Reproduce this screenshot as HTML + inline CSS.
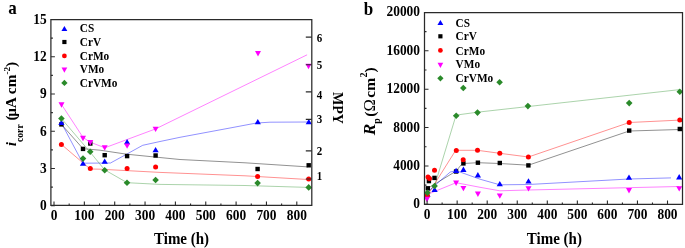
<!DOCTYPE html>
<html><head><meta charset="utf-8"><title>chart</title>
<style>
html,body{margin:0;padding:0;background:#fff;}
body{width:685px;height:248px;overflow:hidden;}
svg{display:block;will-change:transform;filter:blur(0.3px);}
</style></head>
<body>
<svg width="685" height="248" viewBox="0 0 685 248">
<rect width="685" height="248" fill="#fff"/>
<polyline points="61.4,123 82.8,163.2 110.5,163 126.6,154.2 142.7,145.3 160,141.5 180,137.3 230,128 256.5,123 270,122.2 309,122" fill="none" stroke="#0000ff" stroke-width="0.7" stroke-linejoin="round" opacity="0.62"/>
<polyline points="61.4,124.4 83,148.7 100,150.2 126.6,154.2 155.6,157.1 180,159.5 245,162.8 308,166.9" fill="none" stroke="#000000" stroke-width="0.7" stroke-linejoin="round" opacity="0.62"/>
<polyline points="61.4,144.4 90.1,169 100,169.2 160,172.4 245,175.8 308,179.5" fill="none" stroke="#ff0000" stroke-width="0.7" stroke-linejoin="round" opacity="0.62"/>
<polyline points="61.5,104.5 83.1,137.5 90.3,142.2 104.8,147.8 155.6,128.9 307.1,54.8" fill="none" stroke="#ff00ff" stroke-width="0.7" stroke-linejoin="round" opacity="0.7"/>
<polyline points="61.4,118.5 90.1,152.1 104.6,169.8 127.1,182.7 160,184.4 245,185.5 308,187.4" fill="none" stroke="#3c9a3c" stroke-width="0.7" stroke-linejoin="round" opacity="0.62"/>
<rect x="59.2" y="122.2" width="4.4" height="4.4" fill="#000000"/>
<rect x="80.8" y="146.7" width="4.4" height="4.4" fill="#000000"/>
<rect x="88.1" y="141.3" width="4.4" height="4.4" fill="#000000"/>
<rect x="102.5" y="153" width="4.4" height="4.4" fill="#000000"/>
<rect x="124.9" y="153.9" width="4.4" height="4.4" fill="#000000"/>
<rect x="153.4" y="153.3" width="4.4" height="4.4" fill="#000000"/>
<rect x="255.4" y="166.8" width="4.4" height="4.4" fill="#000000"/>
<rect x="306.5" y="163.1" width="4.4" height="4.4" fill="#000000"/>
<circle cx="61.4" cy="144.4" r="2.5" fill="#ff0000"/>
<circle cx="90.3" cy="168.6" r="2.5" fill="#ff0000"/>
<circle cx="127.1" cy="168.6" r="2.5" fill="#ff0000"/>
<circle cx="155.6" cy="167.1" r="2.5" fill="#ff0000"/>
<circle cx="257.6" cy="176.6" r="2.5" fill="#ff0000"/>
<circle cx="308.7" cy="179" r="2.5" fill="#ff0000"/>
<path d="M61.4 119.7L64.5 125L58.3 125Z" fill="#0000ff"/>
<path d="M83 160.4L86.1 165.7L79.9 165.7Z" fill="#0000ff"/>
<path d="M104.7 158.4L107.8 163.7L101.6 163.7Z" fill="#0000ff"/>
<path d="M127.1 139L130.2 144.3L124 144.3Z" fill="#0000ff"/>
<path d="M155.6 146.9L158.7 152.2L152.5 152.2Z" fill="#0000ff"/>
<path d="M257.8 119L260.9 124.3L254.7 124.3Z" fill="#0000ff"/>
<path d="M308.8 119L311.9 124.3L305.7 124.3Z" fill="#0000ff"/>
<path d="M61.5 107.7L64.5 102.3L58.5 102.3Z" fill="#ff00ff"/>
<path d="M83 141.2L86 135.8L80 135.8Z" fill="#ff00ff"/>
<path d="M90.3 145.5L93.3 140.1L87.3 140.1Z" fill="#ff00ff"/>
<path d="M104.7 150.7L107.7 145.3L101.7 145.3Z" fill="#ff00ff"/>
<path d="M127.1 148.8L130.1 143.4L124.1 143.4Z" fill="#ff00ff"/>
<path d="M155.6 132.1L158.6 126.7L152.6 126.7Z" fill="#ff00ff"/>
<path d="M258 56.5L261 51.1L255 51.1Z" fill="#ff00ff"/>
<path d="M308.5 69.2L311.5 63.8L305.5 63.8Z" fill="#ff00ff"/>
<path d="M61.4 115.2L64.7 118.5L61.4 121.8L58.1 118.5Z" fill="#2a8a2a"/>
<path d="M83 155.3L86.3 158.6L83 161.9L79.7 158.6Z" fill="#2a8a2a"/>
<path d="M90.2 148.5L93.5 151.8L90.2 155.1L86.9 151.8Z" fill="#2a8a2a"/>
<path d="M104.7 167L108 170.3L104.7 173.6L101.4 170.3Z" fill="#2a8a2a"/>
<path d="M127 179.5L130.3 182.8L127 186.1L123.7 182.8Z" fill="#2a8a2a"/>
<path d="M155.6 176.7L158.9 180L155.6 183.3L152.3 180Z" fill="#2a8a2a"/>
<path d="M257.6 179.8L260.9 183.1L257.6 186.4L254.3 183.1Z" fill="#2a8a2a"/>
<path d="M308.7 184.1L312 187.4L308.7 190.7L305.4 187.4Z" fill="#2a8a2a"/>
<path d="M50.9 19.5H311.8V205.4H50.9Z" fill="none" stroke="#2a2a2a" stroke-width="1.25"/>
<path d="M54 205.4v-4 M69.17 205.4v-2 M84.35 205.4v-4 M99.53 205.4v-2 M114.7 205.4v-4 M129.88 205.4v-2 M145.05 205.4v-4 M160.22 205.4v-2 M175.4 205.4v-4 M190.57 205.4v-2 M205.75 205.4v-4 M220.92 205.4v-2 M236.1 205.4v-4 M251.28 205.4v-2 M266.45 205.4v-4 M281.62 205.4v-2 M296.8 205.4v-4 M50.9 205.7h4 M50.9 187.08h2 M50.9 168.47h4 M50.9 149.85h2 M50.9 131.24h4 M50.9 112.62h2 M50.9 94.01h4 M50.9 75.39h2 M50.9 56.78h4 M50.9 38.16h2 M50.9 19.55h4 M311.8 37.1h-6 M311.8 64.75h-6 M311.8 91.9h-6 M311.8 119.4h-6 M311.8 150.9h-6 M311.8 179h-6" stroke="#2a2a2a" stroke-width="1.1" fill="none"/>
<polyline points="427.3,193.1 434.6,185.9 456.1,115.1 477.5,112.2 679.8,89.6" fill="none" stroke="#3c9a3c" stroke-width="0.7" stroke-linejoin="round" opacity="0.62"/>
<polyline points="427.3,195.6 455.7,150.3 477.5,150.3 499.8,153.3 528.4,157 629.2,122.5 679.8,120.1" fill="none" stroke="#ff0000" stroke-width="0.7" stroke-linejoin="round" opacity="0.62"/>
<polyline points="427.8,188.3 456.1,171.1 461,165 463.4,163.5 477.9,162.7 499.8,163.5 528.4,165.2 629.2,131 679.8,129.5" fill="none" stroke="#000000" stroke-width="0.7" stroke-linejoin="round" opacity="0.62"/>
<polyline points="426.1,193.3 450.1,172.1 456,170.6 480,179.2 499.8,184.8 528.4,184.5 629,179 671,177.9" fill="none" stroke="#0000ff" stroke-width="0.7" stroke-linejoin="round" opacity="0.62"/>
<polyline points="426.8,194.7 456.1,182.7 480,187.3 499.8,190.8 528.4,190 679,186.5" fill="none" stroke="#ff00ff" stroke-width="0.7" stroke-linejoin="round" opacity="0.7"/>
<rect x="425.6" y="186.1" width="4.4" height="4.4" fill="#000000"/>
<rect x="426.7" y="178.9" width="4.4" height="4.4" fill="#000000"/>
<rect x="432.3" y="175.7" width="4.4" height="4.4" fill="#000000"/>
<rect x="453.9" y="169.3" width="4.4" height="4.4" fill="#000000"/>
<rect x="461.2" y="161.2" width="4.4" height="4.4" fill="#000000"/>
<rect x="475.7" y="160.5" width="4.4" height="4.4" fill="#000000"/>
<rect x="497.6" y="160.8" width="4.4" height="4.4" fill="#000000"/>
<rect x="526.2" y="163.2" width="4.4" height="4.4" fill="#000000"/>
<rect x="627" y="128.4" width="4.4" height="4.4" fill="#000000"/>
<rect x="677.6" y="126.8" width="4.4" height="4.4" fill="#000000"/>
<path d="M427.5 191.4L430.6 196.7L424.4 196.7Z" fill="#0000ff"/>
<path d="M434.6 186.6L437.7 191.9L431.5 191.9Z" fill="#0000ff"/>
<path d="M456.1 167.7L459.2 173L453 173Z" fill="#0000ff"/>
<path d="M463.4 166.6L466.5 171.9L460.3 171.9Z" fill="#0000ff"/>
<path d="M477.9 172.1L481 177.4L474.8 177.4Z" fill="#0000ff"/>
<path d="M499.8 181L502.9 186.3L496.7 186.3Z" fill="#0000ff"/>
<path d="M528.5 178.3L531.6 183.6L525.4 183.6Z" fill="#0000ff"/>
<path d="M629 174.5L632.1 179.8L625.9 179.8Z" fill="#0000ff"/>
<path d="M679.2 174.1L682.3 179.4L676.1 179.4Z" fill="#0000ff"/>
<circle cx="427.3" cy="195.6" r="2.5" fill="#ff0000"/>
<circle cx="428" cy="177.1" r="2.5" fill="#ff0000"/>
<circle cx="429.5" cy="178.5" r="2.5" fill="#ff0000"/>
<circle cx="434.5" cy="170.2" r="2.5" fill="#ff0000"/>
<circle cx="456.3" cy="150.4" r="2.5" fill="#ff0000"/>
<circle cx="463.2" cy="159.8" r="2.5" fill="#ff0000"/>
<circle cx="477.5" cy="150.3" r="2.5" fill="#ff0000"/>
<circle cx="499.8" cy="153.3" r="2.5" fill="#ff0000"/>
<circle cx="528.4" cy="156.9" r="2.5" fill="#ff0000"/>
<circle cx="629.2" cy="122.5" r="2.5" fill="#ff0000"/>
<circle cx="679.8" cy="120.1" r="2.5" fill="#ff0000"/>
<path d="M427 202.2L430 196.8L424 196.8Z" fill="#ff00ff"/>
<path d="M456.1 185.9L459.1 180.5L453.1 180.5Z" fill="#ff00ff"/>
<path d="M463.4 191.3L466.4 185.9L460.4 185.9Z" fill="#ff00ff"/>
<path d="M477.9 196.9L480.9 191.5L474.9 191.5Z" fill="#ff00ff"/>
<path d="M499.8 198.8L502.8 193.4L496.8 193.4Z" fill="#ff00ff"/>
<path d="M528.5 191.6L531.5 186.2L525.5 186.2Z" fill="#ff00ff"/>
<path d="M629 193.4L632 188L626 188Z" fill="#ff00ff"/>
<path d="M679.2 191.6L682.2 186.2L676.2 186.2Z" fill="#ff00ff"/>
<path d="M427.4 189.5L430.7 192.8L427.4 196.1L424.1 192.8Z" fill="#2a8a2a"/>
<path d="M434.6 182.7L437.9 186L434.6 189.3L431.3 186Z" fill="#2a8a2a"/>
<path d="M456.2 112.4L459.5 115.7L456.2 119L452.9 115.7Z" fill="#2a8a2a"/>
<path d="M463.3 84.7L466.6 88L463.3 91.3L460 88Z" fill="#2a8a2a"/>
<path d="M477.5 109.3L480.8 112.6L477.5 115.9L474.2 112.6Z" fill="#2a8a2a"/>
<path d="M499.6 79L502.9 82.3L499.6 85.6L496.3 82.3Z" fill="#2a8a2a"/>
<path d="M527.9 102.8L531.2 106.1L527.9 109.4L524.6 106.1Z" fill="#2a8a2a"/>
<path d="M629.2 99.8L632.5 103.1L629.2 106.4L625.9 103.1Z" fill="#2a8a2a"/>
<path d="M679.8 88.5L683.1 91.8L679.8 95.1L676.5 91.8Z" fill="#2a8a2a"/>
<path d="M424.5 12.7H682.5V204.4H424.5Z" fill="none" stroke="#2a2a2a" stroke-width="1.25"/>
<path d="M427.1 204.4v-4 M442.12 204.4v-2 M457.15 204.4v-4 M472.18 204.4v-2 M487.2 204.4v-4 M502.23 204.4v-2 M517.25 204.4v-4 M532.27 204.4v-2 M547.3 204.4v-4 M562.33 204.4v-2 M577.35 204.4v-4 M592.38 204.4v-2 M607.4 204.4v-4 M622.42 204.4v-2 M637.45 204.4v-4 M652.48 204.4v-2 M667.5 204.4v-4 M424.5 204.3h4 M424.5 185.12h2 M424.5 165.93h4 M424.5 146.75h2 M424.5 127.56h4 M424.5 108.38h2 M424.5 89.19h4 M424.5 70.01h2 M424.5 50.82h4 M424.5 31.64h2 M424.5 12.45h4" stroke="#2a2a2a" stroke-width="1.1" fill="none"/>
<path d="M64.4 26.03L67.34 31.07L61.46 31.07Z" fill="#0000ff"/>
<rect x="62.31" y="39.91" width="4.18" height="4.18" fill="#000000"/>
<circle cx="64.4" cy="55.9" r="2.38" fill="#ff0000"/>
<path d="M64.4 72.74L67.25 67.61L61.55 67.61Z" fill="#ff00ff"/>
<path d="M64.4 79.77L67.54 82.9L64.4 86.04L61.27 82.9Z" fill="#2a8a2a"/>
<path d="M440.4 19.93L443.34 24.96L437.45 24.96Z" fill="#0000ff"/>
<rect x="438.31" y="34.21" width="4.18" height="4.18" fill="#000000"/>
<circle cx="440.4" cy="50.4" r="2.38" fill="#ff0000"/>
<path d="M440.4 67.94L443.25 62.81L437.55 62.81Z" fill="#ff00ff"/>
<path d="M440.4 75.16L443.53 78.3L440.4 81.44L437.26 78.3Z" fill="#2a8a2a"/>
<g style="font-family:'Liberation Serif',serif;font-weight:bold" fill="#000">
<text transform="translate(8.3,14.1) scale(1,1.07)" font-size="17" text-anchor="start" >a</text>
<text transform="translate(363.7,14.5) scale(1,1.07)" font-size="17" text-anchor="start" >b</text>
<text transform="translate(46.7,210) scale(1,1.07)" font-size="13.4" text-anchor="end" >0</text>
<text transform="translate(46.7,172.77) scale(1,1.07)" font-size="13.4" text-anchor="end" >3</text>
<text transform="translate(46.7,135.54) scale(1,1.07)" font-size="13.4" text-anchor="end" >6</text>
<text transform="translate(46.7,98.31) scale(1,1.07)" font-size="13.4" text-anchor="end" >9</text>
<text transform="translate(46.7,61.08) scale(1,1.07)" font-size="13.4" text-anchor="end" >12</text>
<text transform="translate(46.7,23.85) scale(1,1.07)" font-size="13.4" text-anchor="end" >15</text>
<text transform="translate(54,220.3) scale(1,1.07)" font-size="13.4" text-anchor="middle" >0</text>
<text transform="translate(84.35,220.3) scale(1,1.07)" font-size="13.4" text-anchor="middle" >100</text>
<text transform="translate(114.7,220.3) scale(1,1.07)" font-size="13.4" text-anchor="middle" >200</text>
<text transform="translate(145.05,220.3) scale(1,1.07)" font-size="13.4" text-anchor="middle" >300</text>
<text transform="translate(175.4,220.3) scale(1,1.07)" font-size="13.4" text-anchor="middle" >400</text>
<text transform="translate(205.75,220.3) scale(1,1.07)" font-size="13.4" text-anchor="middle" >500</text>
<text transform="translate(236.1,220.3) scale(1,1.07)" font-size="13.4" text-anchor="middle" >600</text>
<text transform="translate(266.45,220.3) scale(1,1.07)" font-size="13.4" text-anchor="middle" >700</text>
<text transform="translate(296.8,220.3) scale(1,1.07)" font-size="13.4" text-anchor="middle" >800</text>
<text transform="translate(316.7,41.5) scale(1,1.07)" font-size="11" text-anchor="start" >6</text>
<text transform="translate(316.7,69.1) scale(1,1.07)" font-size="11" text-anchor="start" >5</text>
<text transform="translate(316.7,98.9) scale(1,1.07)" font-size="11" text-anchor="start" >4</text>
<text transform="translate(316.7,123.3) scale(1,1.07)" font-size="11" text-anchor="start" >3</text>
<text transform="translate(316.7,154.9) scale(1,1.07)" font-size="11" text-anchor="start" >2</text>
<text transform="translate(316.7,180) scale(1,1.07)" font-size="11" text-anchor="start" >1</text>
<text transform="translate(420,208.3) scale(1,1.07)" font-size="13.4" text-anchor="end" >0</text>
<text transform="translate(420,169.93) scale(1,1.07)" font-size="13.4" text-anchor="end" >4000</text>
<text transform="translate(420,131.56) scale(1,1.07)" font-size="13.4" text-anchor="end" >8000</text>
<text transform="translate(420,93.19) scale(1,1.07)" font-size="13.4" text-anchor="end" >12000</text>
<text transform="translate(420,54.82) scale(1,1.07)" font-size="13.4" text-anchor="end" >16000</text>
<text transform="translate(420,16.45) scale(1,1.07)" font-size="13.4" text-anchor="end" >20000</text>
<text transform="translate(427.1,218.8) scale(1,1.07)" font-size="13.4" text-anchor="middle" >0</text>
<text transform="translate(457.15,218.8) scale(1,1.07)" font-size="13.4" text-anchor="middle" >100</text>
<text transform="translate(487.2,218.8) scale(1,1.07)" font-size="13.4" text-anchor="middle" >200</text>
<text transform="translate(517.25,218.8) scale(1,1.07)" font-size="13.4" text-anchor="middle" >300</text>
<text transform="translate(547.3,218.8) scale(1,1.07)" font-size="13.4" text-anchor="middle" >400</text>
<text transform="translate(577.35,218.8) scale(1,1.07)" font-size="13.4" text-anchor="middle" >500</text>
<text transform="translate(607.4,218.8) scale(1,1.07)" font-size="13.4" text-anchor="middle" >600</text>
<text transform="translate(637.45,218.8) scale(1,1.07)" font-size="13.4" text-anchor="middle" >700</text>
<text transform="translate(667.5,218.8) scale(1,1.07)" font-size="13.4" text-anchor="middle" >800</text>
<text transform="translate(154,243.8) scale(1,1.07)" font-size="15" text-anchor="start" >Time (h)</text>
<text transform="translate(526.8,243.8) scale(1,1.07)" font-size="15" text-anchor="start" >Time (h)</text>
<text transform="translate(16.4,146.3) scale(1,1.02) rotate(-90)" font-size="15"><tspan font-style="italic">i</tspan><tspan font-size="9.5" dy="6.5">corr</tspan><tspan dy="-6.5"> (</tspan><tspan dx="-1.4">&#956;A cm</tspan><tspan font-size="9" dy="-6.3">-2</tspan><tspan dy="6.3">)</tspan></text>
<text transform="translate(374.6,135.3) scale(1,1.04) rotate(-90)" font-size="15"><tspan font-style="italic" font-size="16.5">R</tspan><tspan font-size="9.5" dy="5">p</tspan><tspan dy="-5" dx="1.6">(</tspan><tspan font-weight="normal" font-size="16">&#937;</tspan><tspan dx="-2.4"> cm</tspan><tspan font-size="9.8" dy="-8" dx="0.3">2</tspan><tspan dy="8">)</tspan></text>
<text transform="translate(332.8,92.1) rotate(90)" font-size="14">MPY</text>
<text transform="translate(79.8,32.4) scale(1,1.08)" font-size="11.3" text-anchor="start" >CS</text>
<text transform="translate(79.8,46) scale(1,1.08)" font-size="11.3" text-anchor="start" >CrV</text>
<text transform="translate(79.8,59.8) scale(1,1.08)" font-size="11.3" text-anchor="start" >CrMo</text>
<text transform="translate(79.8,73.4) scale(1,1.08)" font-size="11.3" text-anchor="start" >VMo</text>
<text transform="translate(79.8,87) scale(1,1.08)" font-size="11.3" text-anchor="start" >CrVMo</text>
<text transform="translate(455.6,26.6) scale(1,1.08)" font-size="11.3" text-anchor="start" >CS</text>
<text transform="translate(455.6,40.3) scale(1,1.08)" font-size="11.3" text-anchor="start" >CrV</text>
<text transform="translate(455.6,54.6) scale(1,1.08)" font-size="11.3" text-anchor="start" >CrMo</text>
<text transform="translate(455.6,68.3) scale(1,1.08)" font-size="11.3" text-anchor="start" >VMo</text>
<text transform="translate(455.6,82.4) scale(1,1.08)" font-size="11.3" text-anchor="start" >CrVMo</text>
</g>
</svg>
</body></html>
